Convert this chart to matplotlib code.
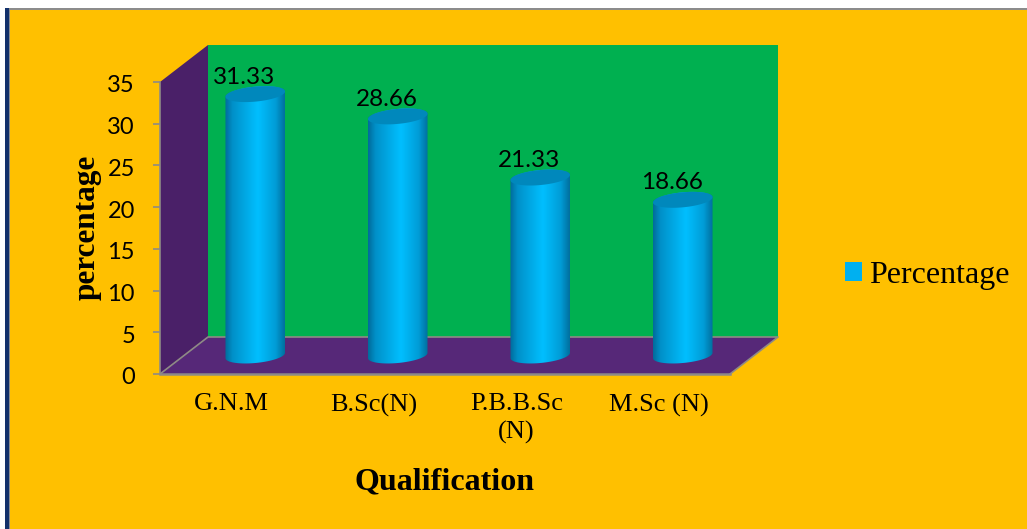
"""Percentage of respondents by qualification: pseudo-3D cylinder columns."""
import matplotlib

matplotlib.use("Agg")
import matplotlib.pyplot as plt  # noqa: E402
import numpy as np  # noqa: E402
from matplotlib.colors import LinearSegmentedColormap  # noqa: E402
from matplotlib.patches import Patch, Polygon, Rectangle  # noqa: E402
from matplotlib.transforms import ScaledTranslation  # noqa: E402

categories = ["G.N.M", "B.Sc(N)", "P.B.B.Sc\n(N)", "M.Sc (N)"]
percentages = [31.33, 28.66, 21.33, 18.66]
y_ticks = [0, 5, 10, 15, 20, 25, 30, 35]

W, H = 1027, 529
GOLD = "#FFC000"
GREEN = "#00B050"
WALL = "#4A2068"
FLOOR = "#562878"
EDGE = "#8E8A86"
CAP = "#0088BC"
LEGEND_BLUE = "#00B0F0"
SERIF = "Liberation Serif"
LATO = "Lato"

# depth of the box, in category units and value units
DX = 48 / 142.5
DY = 37 / 8.343
BAR_HALF = 0.209
ELL_B = 0.9
ELL_TILT = 0.32

shade = LinearSegmentedColormap.from_list(
    "cyl", [(0, "#006C9C"), (0.12, "#0090C8"), (0.55, "#00BFFF"),
            (0.85, "#009CD6"), (1, "#00709F")])


def px(x0, y0, x1, y1):
    """Pixel box (y down) to figure fractions."""
    return x0 / W, 1 - y1 / H, (x1 - x0) / W, (y1 - y0) / H


def ellipse(cx, cy, t):
    return (cx + BAR_HALF * np.cos(t),
            cy + ELL_B * np.sin(t) + ELL_TILT * np.cos(t))


def draw_cylinder(ax, i, value):
    cx = i + DX / 2
    base = DY / 2
    top = value + base
    t_low = np.linspace(np.pi, 2 * np.pi, 60)
    t_high = np.linspace(0, np.pi, 60)
    bx, by = ellipse(cx, base, t_low)
    tx, ty = ellipse(cx, top, t_high)
    body = Polygon(np.column_stack([np.r_[bx, tx], np.r_[by, ty]]),
                   closed=True, facecolor="none", edgecolor="none",
                   transform=ax.transData)
    ax.add_patch(body)
    im = ax.imshow(np.linspace(0, 1, 120)[None, :], cmap=shade, aspect="auto",
                   extent=(cx - BAR_HALF, cx + BAR_HALF, 0, top + 2), zorder=3)
    im.set_clip_path(body)
    t = np.linspace(0, 2 * np.pi, 120)
    cap_x, cap_y = ellipse(cx, top, t)
    ax.fill(cap_x, cap_y, color=CAP, lw=0, zorder=4)


fig = plt.figure(figsize=(W / 100, H / 100), dpi=100, facecolor="white")

# page frame behind the chart
fig.add_artist(Rectangle((5 / W, 0), 5 / W, 1 - 8 / H, transform=fig.transFigure,
                         facecolor="#12306A", edgecolor="none", zorder=-3))
fig.add_artist(Rectangle((8.5 / W, 0), 1 - 8.5 / W, 1 - 8 / H, transform=fig.transFigure,
                         facecolor="#8C8C8C", edgecolor="none", zorder=-2))
fig.add_artist(Rectangle((10 / W, 0), 1 - 10 / W, 1 - 9.5 / H, transform=fig.transFigure,
                         facecolor=GOLD, edgecolor="none", zorder=-1))

ax = fig.add_axes(px(160, 82, 730, 374))
ax.patch.set_visible(False)

x0, x1 = -0.5, 3.5
y0, y1 = 0, 35

# box walls, pushed back by the depth offset
ax.add_patch(Polygon([(x0 + DX, y0 + DY), (x1 + DX, y0 + DY),
                      (x1 + DX, y1 + DY), (x0 + DX, y1 + DY)],
                     facecolor=GREEN, edgecolor="none", clip_on=False, zorder=1))
ax.add_patch(Polygon([(x0, y0), (x0 + DX, y0 + DY), (x0 + DX, y1 + DY), (x0, y1)],
                     facecolor=WALL, edgecolor="none", clip_on=False, zorder=1))
ax.add_patch(Polygon([(x0, y0), (x1, y0), (x1 + DX, y0 + DY), (x0 + DX, y0 + DY)],
                     facecolor=FLOOR, edgecolor="none", clip_on=False, zorder=1))
ax.plot([x0, x0 + DX, x1 + DX, x1], [y0, y0 + DY, y0 + DY, y0], color=EDGE, lw=1.2,
        clip_on=False, zorder=2)

for i, v in enumerate(percentages):
    draw_cylinder(ax, i, v)
    ax.annotate(f"{v:.2f}", (i, v), xytext=(9.5, 25.5), textcoords="offset points",
                ha="center", va="center", fontsize=17.5, family=LATO,
                color="black", zorder=5, annotation_clip=False)

ax.set_xlim(x0, x1)
ax.set_ylim(y0, y1)
ax.set_xticks(range(len(categories)))
ax.set_xticklabels(categories, family=SERIF, fontsize=19, linespacing=1.3)
ax.set_yticks(y_ticks)
ax.set_yticklabels([str(t) for t in y_ticks], family=LATO, fontsize=17)
ax.tick_params(axis="x", length=0, pad=14)
ax.tick_params(axis="y", length=5, width=1.2, color=EDGE, pad=13)

# tick numbers sit slightly below their tick marks
nudge = ScaledTranslation(0, -2 / 100, fig.dpi_scale_trans)
for lab in ax.get_yticklabels():
    lab.set_transform(lab.get_transform() + nudge)

for side in ("top", "right"):
    ax.spines[side].set_visible(False)
ax.spines["left"].set_color(EDGE)
ax.spines["left"].set_linewidth(1.2)
ax.spines["bottom"].set_color(EDGE)
ax.spines["bottom"].set_linewidth(1.8)

fig.text(87 / W, 1 - 227 / H, "percentage", rotation=90, ha="center", va="center",
         family=SERIF, fontweight="bold", fontsize=22.5)
fig.text(444 / W, 1 - 482 / H, "Qualification", ha="center", va="center",
         family=SERIF, fontweight="bold", fontsize=23)

fig.legend(handles=[Patch(facecolor=LEGEND_BLUE, edgecolor="none", label="Percentage")],
           loc="center left", bbox_to_anchor=(835 / W, 1 - 275 / H), frameon=False,
           prop={"family": SERIF, "size": 23}, handlelength=0.54, handleheight=0.54,
           handletextpad=0.22, borderaxespad=0, borderpad=0.3)

fig.savefig("out.png", dpi=100, facecolor="white")
plt.close(fig)
